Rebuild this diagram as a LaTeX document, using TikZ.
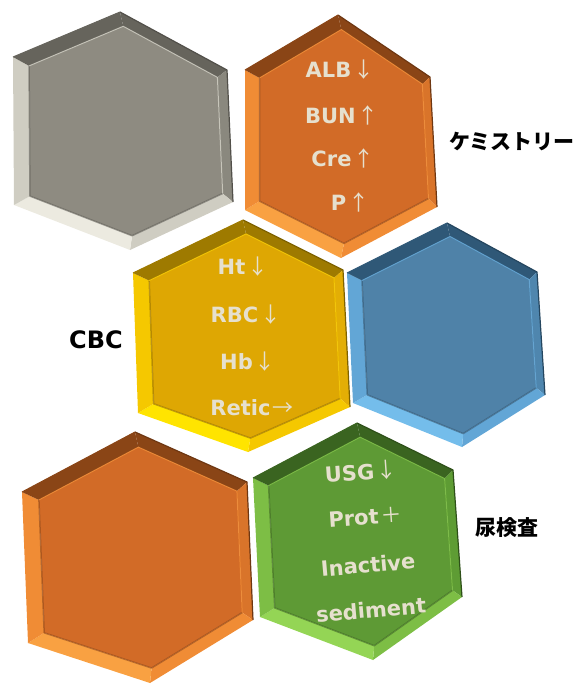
\documentclass[tikz,border=0pt]{standalone}
\usepackage{fontspec}
\setmainfont{DejaVu Sans}
\newfontfamily\jp{Noto Sans CJK JP}
\usetikzlibrary{calc}
\definecolor{txt}{HTML}{E6E0CE}
% gray
\definecolor{gMain}{HTML}{8E8B81}\definecolor{gDark}{HTML}{66645C}\definecolor{gMid}{HTML}{8A887E}\definecolor{gLight}{HTML}{CFCDC2}\definecolor{gLighter}{HTML}{ECEAE0}
% orange
\definecolor{oMain}{HTML}{D26B27}\definecolor{oDark}{HTML}{8A4516}\definecolor{oMid}{HTML}{D9742A}\definecolor{oLight}{HTML}{F08C35}\definecolor{oLighter}{HTML}{F9A142}
% yellow
\definecolor{yMain}{HTML}{DEA703}\definecolor{yDark}{HTML}{9E7A00}\definecolor{yMid}{HTML}{E3AE05}\definecolor{yLight}{HTML}{F5C800}\definecolor{yLighter}{HTML}{FFE400}
% blue
\definecolor{bMain}{HTML}{4F82A8}\definecolor{bDark}{HTML}{2F5877}\definecolor{bMid}{HTML}{4F86AE}\definecolor{bLight}{HTML}{62A6D6}\definecolor{bLighter}{HTML}{74BDEB}
% green
\definecolor{vMain}{HTML}{5E9A35}\definecolor{vDark}{HTML}{3A6420}\definecolor{vMid}{HTML}{5E9C34}\definecolor{vLight}{HTML}{7DBE45}\definecolor{vLighter}{HTML}{94D555}
\newcommand{\bevelhex}[6]{%
  \foreach \i in {1,...,6}{\coordinate (#1i\i) at ($(#1c)!0.88!(#1\i)+(3,0)$);}
  \fill[#3] (#11) -- (#12) -- (#1i2) -- (#1i1) -- cycle;
  \fill[#4] (#12) -- (#13) -- (#1i3) -- (#1i2) -- cycle;
  \fill[#5] (#13) -- (#14) -- (#1i4) -- (#1i3) -- cycle;
  \fill[#6] (#14) -- (#15) -- (#1i5) -- (#1i4) -- cycle;
  \fill[#5] (#15) -- (#16) -- (#1i6) -- (#1i5) -- cycle;
  \fill[#3] (#16) -- (#11) -- (#1i1) -- (#1i6) -- cycle;
  \draw[#3!80!black, line width=1.2pt, line join=round] (#11) -- (#12) -- (#13);
  \draw[#3, line width=1pt, line join=round] (#16) -- (#11);
  \fill[#2] (#1i1) -- (#1i2) -- (#1i3) -- (#1i4) -- (#1i5) -- (#1i6) -- cycle;
  \draw[#2!70!black, line width=1.5pt, line join=round, opacity=0.6] (#1i3) -- (#1i4) -- (#1i5) -- (#1i6);
  \draw[#5, line width=1pt, line join=round, opacity=0.8] (#1i6) -- (#1i1) -- (#1i2) -- (#1i3);
}
\tikzset{
  intext/.style={text=txt, font=\fontsize{21}{24}\bfseries\selectfont, inner sep=0pt, anchor=center},
  lbl/.style={text=black, font=\fontsize{21}{24}\jp\bfseries\selectfont, inner sep=0pt, anchor=center},
}
\newcommand{\ar}[1]{\kern2pt{\jp\mdseries #1}}
\begin{document}
\begin{tikzpicture}[x=1pt,y=-1pt]
\useasboundingbox (0,0) rectangle (579,686);
% gray
\coordinate (g1) at (120,12); \coordinate (g2) at (227,70); \coordinate (g3) at (233,202);
\coordinate (g4) at (130,250); \coordinate (g5) at (14,205); \coordinate (g6) at (13,57);
\coordinate (gc) at (122,131);
\bevelhex{g}{gMain}{gDark}{gMid}{gLight}{gLighter}
% orange top
\coordinate (o1) at (338,15); \coordinate (o2) at (430,77); \coordinate (o3) at (437,207);
\coordinate (o4) at (341,258); \coordinate (o5) at (245,210); \coordinate (o6) at (245,70);
\coordinate (oc) at (341,136);
\bevelhex{o}{oMain}{oDark}{oMid}{oLight}{oLighter}
% yellow
\coordinate (y1) at (243,220); \coordinate (y2) at (343,270); \coordinate (y3) at (350,407);
\coordinate (y4) at (248,452); \coordinate (y5) at (138,413); \coordinate (y6) at (133,273);
\coordinate (yc) at (243,336);
\bevelhex{y}{yMain}{yDark}{yMid}{yLight}{yLighter}
% blue
\coordinate (b1) at (447,223); \coordinate (b2) at (537,272); \coordinate (b3) at (545,395);
\coordinate (b4) at (462,447); \coordinate (b5) at (353,403); \coordinate (b6) at (347,273);
\coordinate (bc) at (447,335);
\bevelhex{b}{bMain}{bDark}{bMid}{bLight}{bLighter}
% orange bottom
\coordinate (p1) at (135,432); \coordinate (p2) at (247,482); \coordinate (p3) at (253,620);
\coordinate (p4) at (150,683); \coordinate (p5) at (28,643); \coordinate (p6) at (22,492);
\coordinate (pc) at (138,558);
\bevelhex{p}{oMain}{oDark}{oMid}{oLight}{oLighter}
% green
\coordinate (v1) at (357,423); \coordinate (v2) at (453,470); \coordinate (v3) at (462,597);
\coordinate (v4) at (373,660); \coordinate (v5) at (260,617); \coordinate (v6) at (253,478);
\coordinate (vc) at (358,541);
\bevelhex{v}{vMain}{vDark}{vMid}{vLight}{vLighter}
% texts chemistry
\node[intext] (alb) at (340,70) {ALB\ar{↓}};
\node[intext] (bun) at (342,115) {BUN\ar{↑}};
\node[intext] (cre) at (343,158) {Cre\ar{↑}};
\node[intext] (pp) at (350,202) {P\ar{↑}};
% CBC
\node[intext] (ht) at (243,267) {Ht\ar{↓}};
\node[intext] (rbc) at (246,315) {RBC\ar{↓}};
\node[intext] (hb) at (248,362) {Hb\ar{↓}};
\node[intext] (ret) at (252,408) {Retic\ar{→}};
% urine
\node[intext, rotate=4] (usg) at (361,472) {USG\ar{↓}};
\node[intext, rotate=4] (prot) at (365,517) {Prot\ar{＋}};
\node[intext, rotate=5] (inact) at (368,565) {Inactive};
\node[intext, rotate=5] (sed) at (371,610) {sediment};
% labels
\node[lbl] (chem) at (512,142) {ケミストリー};
\node[text=black, font=\fontsize{24}{28}\bfseries\selectfont, inner sep=0pt] (cbc) at (96,340) {CBC};
\node[lbl] (uri) at (507,528) {尿検査};
\end{tikzpicture}
\end{document}
